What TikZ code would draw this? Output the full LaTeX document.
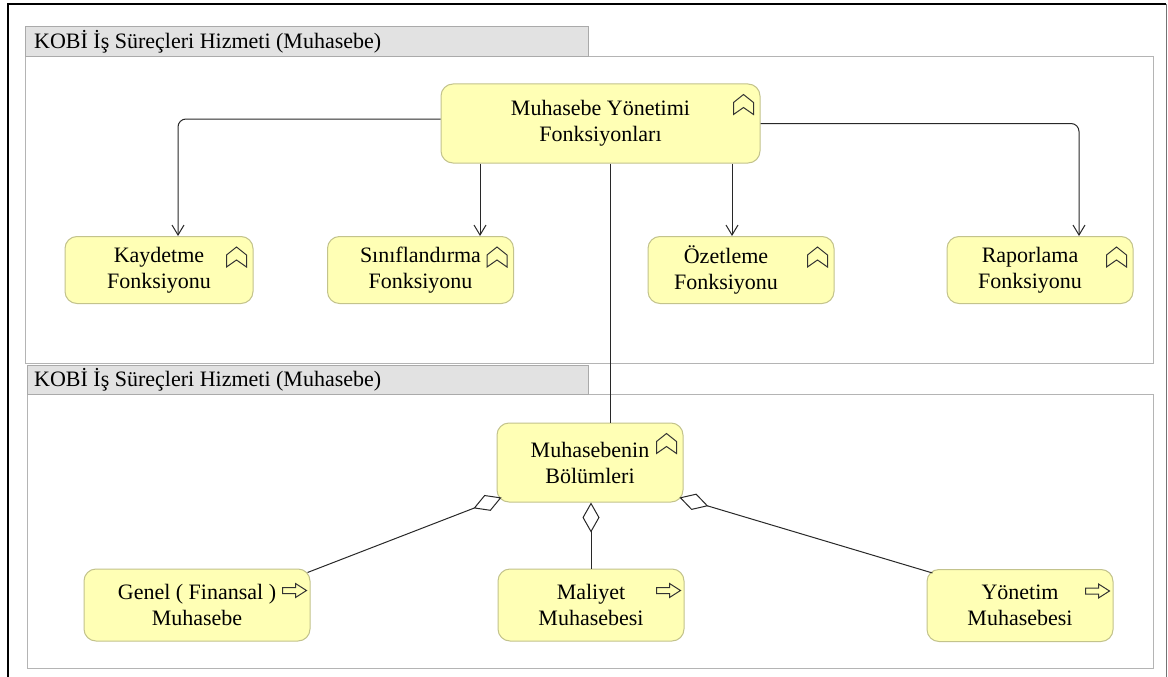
\documentclass[tikz,border=0pt]{standalone}
\usepackage{fontspec}
\setmainfont{Liberation Serif}
\usetikzlibrary{arrows.meta}
\definecolor{nodefill}{RGB}{255,255,181}
\definecolor{nodeline}{RGB}{195,195,140}
\definecolor{hdrfill}{RGB}{226,226,226}
\definecolor{hdrline}{RGB}{170,170,170}
\definecolor{grpline}{RGB}{180,180,180}
\definecolor{connc}{RGB}{40,40,40}
\tikzset{
  elem/.style={draw=nodeline, fill=nodefill, rounded corners=12pt, line width=1pt, align=center,
    font=\fontsize{22}{26}\selectfont, inner sep=0pt},
  hdr/.style={draw=hdrline, fill=hdrfill, line width=1pt},
  grp/.style={draw=grpline, line width=1pt},
  hdrtext/.style={anchor=west, inner sep=0pt, font=\fontsize{22}{25}\selectfont},
  conn/.style={draw=connc, line width=1pt},
  arr/.style={conn, -{Straight Barb[length=10pt,width=12pt]}, rounded corners=8pt},
  agg/.style={conn, {Diamond[open,length=30pt,width=17pt]}-},
  ficon/.style={draw=black!80, line width=1pt, line join=miter},
  funcpic/.pic={\draw[ficon] (0,0) -- ++(0,-12) -- ++(10,-8) -- ++(10,8) -- ++(0,12) -- ++(-10,-7) -- cycle;},
  procpic/.pic={\draw[ficon] (0,-3) -- (13,-3) -- (13,-7) -- (24,0) -- (13,7) -- (13,3) -- (0,3) -- cycle;}
}
\begin{document}
\begin{tikzpicture}[x=1pt,y=-1pt]
\useasboundingbox (0,0) rectangle (1168,677);
\fill[white] (0,0) rectangle (1168,677);
% outer frame
\draw[line width=2pt] (8,690) -- (8,4) -- (1166,4);
\draw[line width=1pt, draw=black!55] (1166,4) -- (1166,690);
% group 1
\draw[grp, fill=white] (25,57) rectangle (1153,363);
\draw[hdr] (25,27) rectangle (588,57);
\node[hdrtext] (h1) at (34,42) {KOBİ İş Süreçleri Hizmeti (Muhasebe)};
% group 2
\draw[grp, fill=white] (27,394) rectangle (1153,668);
\draw[hdr] (27,365) rectangle (588,394);
\node[hdrtext] (h2) at (34,380) {KOBİ İş Süreçleri Hizmeti (Muhasebe)};
% nodes
\node[elem, minimum width=319pt, minimum height=79pt] (myf) at (600.5,123.5) {Muhasebe Yönetimi\\Fonksiyonları};
\node[elem, minimum width=188pt, minimum height=67pt] (kay) at (159,270) {Kaydetme\\Fonksiyonu};
\node[elem, minimum width=186pt, minimum height=67pt] (sin) at (420.5,270) {Sınıflandırma\\Fonksiyonu};
\node[elem, minimum width=186pt, minimum height=67pt] (oze) at (741,270) {Özetleme\hspace*{30pt}\\Fonksiyonu\hspace*{30pt}};
\node[elem, minimum width=186pt, minimum height=67pt] (rap) at (1040,270) {Raporlama\hspace*{20pt}\\Fonksiyonu\hspace*{20pt}};
\node[elem, minimum width=186pt, minimum height=79pt] (mb) at (590,462.5) {Muhasebenin\\Bölümleri};
\node[elem, minimum width=226pt, minimum height=72pt] (gen) at (197,605) {Genel ( Finansal )\\Muhasebe};
\node[elem, minimum width=186pt, minimum height=72pt] (mal) at (591,605) {Maliyet\\Muhasebesi};
\node[elem, minimum width=186pt, minimum height=72pt] (yon) at (1020,605.5) {Yönetim\\Muhasebesi};
% icons
\foreach \n in {myf,kay,sin,oze,rap,mb} {
  \pic at ([xshift=-27pt,yshift=-31pt]\n.north east) {funcpic};
}
\foreach \n in {gen,mal,yon} {
  \pic at ([xshift=-28pt,yshift=-22pt]\n.north east) {procpic};
}
% connectors
\draw[arr] ([yshift=4.5pt]myf.west) -| ([xshift=19pt]kay.north);
\draw[arr] ([xshift=59.5pt]sin.north |- myf.south) -- ([xshift=59.5pt]sin.north);
\draw[arr] ([xshift=-9pt]oze.north |- myf.south) -- ([xshift=-9pt]oze.north);
\draw[arr] (myf.east) -| ([xshift=39pt]rap.north);
\draw[conn] ([xshift=20pt]mb.north |- myf.south) -- ([xshift=20pt]mb.north);
% aggregations
\draw[agg] ([xshift=5pt,yshift=5pt]mb.south west) -- ([xshift=-3pt,yshift=-4pt]gen.north east);
\draw[agg] ([xshift=1pt]mb.south) -- ([xshift=0pt]mal.north);
\draw[agg] ([xshift=-4pt,yshift=5pt]mb.south east) -- ([xshift=6pt,yshift=-4pt]yon.north west);
\end{tikzpicture}
\end{document}
